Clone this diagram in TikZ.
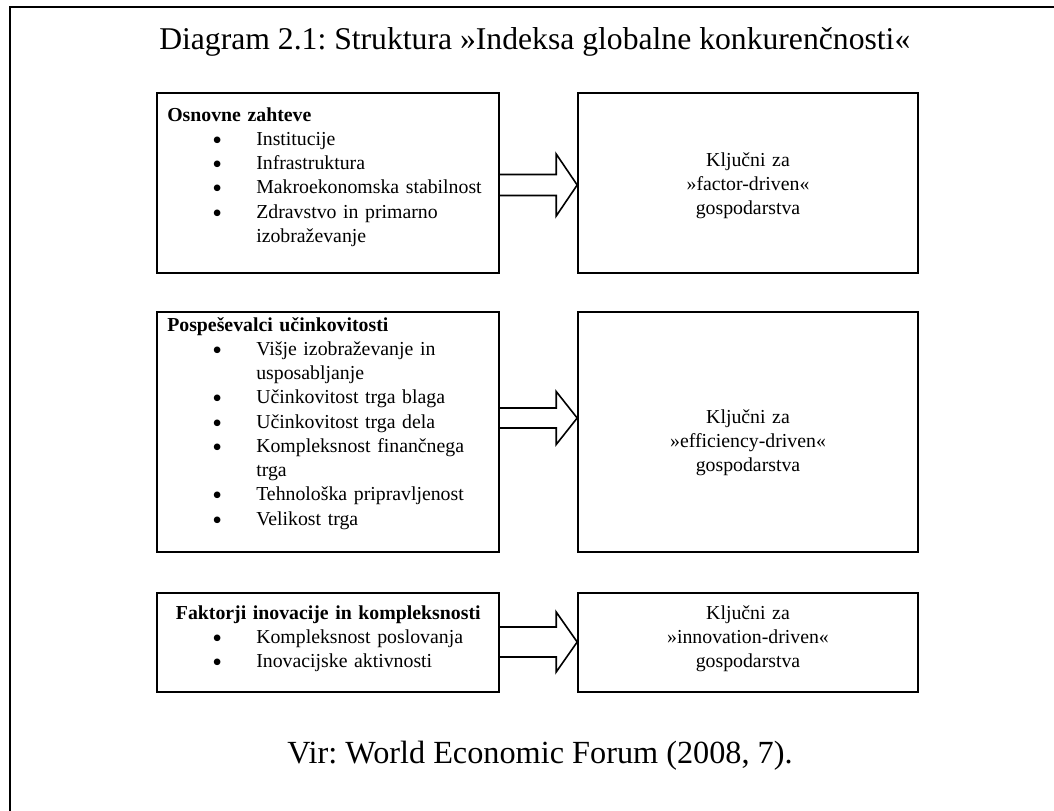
\documentclass[tikz,border=0pt]{standalone}
\usepackage{fontspec}
\setmainfont{Liberation Serif}
\usepackage{tikz}
\usetikzlibrary{positioning, calc}
\frenchspacing

\newdimen\pxu \pxu=0.75pt
\newcommand{\bpt}{\hspace*{45\pxu}\makebox[44\pxu][l]{\smash{\raisebox{-0.45ex}{\scalebox{1.4}{\textbullet}}}}}
\newcommand{\bcont}{\hspace*{89\pxu}}
% block arrow: left box, right box, y of tip, half shaft, half head
\newcommand{\blockarrow}[5]{%
  \draw[arrowline] ($(#1.east |- 0,#3)+(0,-#4)$) -- ($(#2.west |- 0,#3)+(-21,-#4)$)
    -- ($(#2.west |- 0,#3)+(-21,-#5)$) -- (#2.west |- 0,#3)
    -- ($(#2.west |- 0,#3)+(-21,#5)$) -- ($(#2.west |- 0,#3)+(-21,#4)$)
    -- ($(#1.east |- 0,#3)+(0,#4)$);}

\begin{document}
\begin{tikzpicture}[
    x=0.75pt, y=-0.75pt,
    leftbox/.style={rectangle, draw, line width=1.2pt, minimum width=256.5pt, inner sep=0pt},
    rightbox/.style={rectangle, draw, line width=1.2pt, minimum width=255pt, inner sep=0pt},
    listtxt/.style={anchor=base west, text width=241.5pt, align=left, inner sep=0pt, font=\fontsize{14.85}{18.2}\selectfont},
    keytxt/.style={anchor=base, text width=240pt, align=center, inner sep=0pt, font=\fontsize{14.85}{18.2}\selectfont},
    bigtxt/.style={anchor=base west, inner sep=0pt, font=\fontsize{23.75}{28}\selectfont},
    arrowline/.style={line width=1.2pt, line join=miter},
    frameline/.style={line width=1.6pt},
]
\useasboundingbox (0,0) rectangle (1054,811);

\draw[frameline] (10,811) -- (10,7) -- (1054,7);

\node[bigtxt] (title) at (159,49) {Diagram 2.1: Struktura »Indeksa globalne konkurenčnosti«};

% left column
\node[leftbox, minimum height=135pt] (osnovne) at (328,183) {};
\node[leftbox, minimum height=180pt] (pospesevalci) at (328,432) {};
\node[leftbox, minimum height=74.25pt] (faktorji) at (328,642.5) {};

% right column
\node[rightbox, minimum height=135pt] (factor) at (748,183) {};
\node[rightbox, minimum height=180pt] (efficiency) at (748,432) {};
\node[rightbox, minimum height=74.25pt] (innovation) at (748,642.5) {};

\node[listtxt] (osnovneTxt) at (167,121) {\textbf{Osnovne zahteve}\\
  \bpt Institucije\\
  \bpt Infrastruktura\\
  \bpt Makroekonomska stabilnost\\
  \bpt \makebox[227\pxu][s]{Zdravstvo in primarno}\\
  \bcont izobraževanje};

\node[listtxt] (pospesevalciTxt) at (167,331) {\textbf{Pospeševalci učinkovitosti}\\
  \bpt Višje izobraževanje in\\
  \bcont usposabljanje\\
  \bpt Učinkovitost trga blaga\\
  \bpt Učinkovitost trga dela\\
  \bpt Kompleksnost finančnega\\
  \bcont trga\\
  \bpt Tehnološka pripravljenost\\
  \bpt Velikost trga};

\node[listtxt] (faktorjiTxt) at (167,619) {\makebox[\linewidth]{\textbf{Faktorji inovacije in kompleksnosti}}\\
  \bpt Kompleksnost poslovanja\\
  \bpt Inovacijske aktivnosti};

\node[keytxt] (factorTxt) at (748,166) {Ključni za\\»factor-driven«\\gospodarstva};
\node[keytxt] (efficiencyTxt) at (748,423) {Ključni za\\»efficiency-driven«\\gospodarstva};
\node[keytxt] (innovationTxt) at (748,619) {Ključni za\\»innovation-driven«\\gospodarstva};

\blockarrow{osnovne}{factor}{185}{10.5}{31}
\blockarrow{pospesevalci}{efficiency}{418}{10}{26.5}
\blockarrow{faktorji}{innovation}{642}{15}{30}

\node[bigtxt, font=\fontsize{24.2}{28}\selectfont] (source) at (287,763) {Vir: World Economic Forum (2008, 7).};

\end{tikzpicture}
\end{document}
